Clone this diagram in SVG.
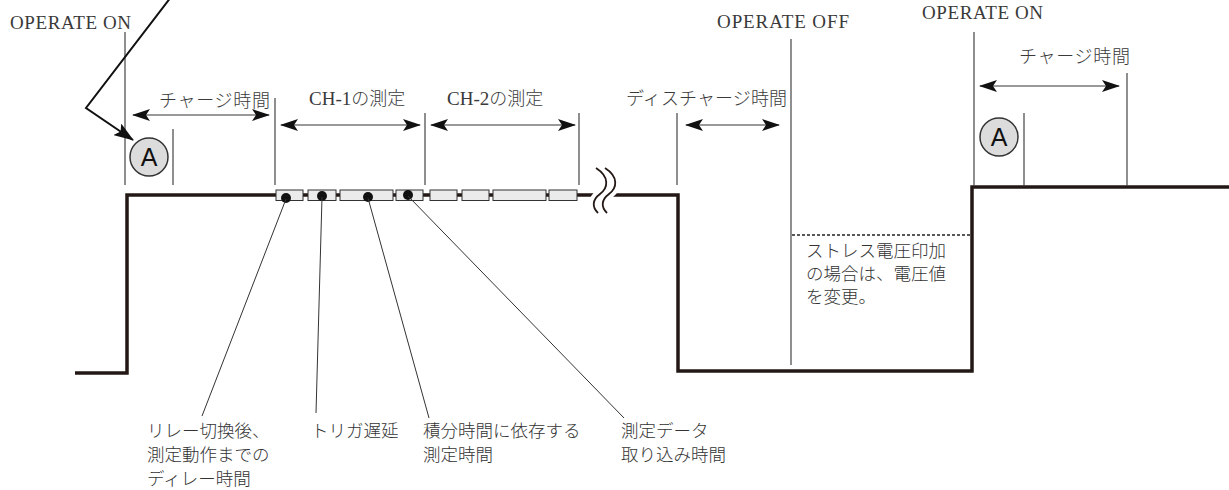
<svg xmlns="http://www.w3.org/2000/svg" width="1229" height="490" viewBox="0 0 1229 490">
<style>
.lat{font-family:"Liberation Serif","Noto Sans CJK JP",serif;font-size:19px;fill:#3a3a3a}
.jp{font-family:"Noto Sans CJK JP",sans-serif;font-size:18px;fill:#3a3a3a;font-weight:300}
.jpb{font-family:"Noto Sans CJK JP",sans-serif;font-size:17.5px;fill:#333;font-weight:300}
.vl{stroke:#444;stroke-width:1.2;fill:none}
.dim{stroke:#777;stroke-width:1.5;fill:none;marker-start:url(#ah);marker-end:url(#ah)}
.wave{stroke:#231815;stroke-width:3.5;fill:none}
.box{fill:#ebebeb;stroke:#333;stroke-width:1}
.dot{fill:#111}
.lead{stroke:#333;stroke-width:1;fill:none}
.circA{fill:#dcdcdc;stroke:#333;stroke-width:1.5}
.letA{font-family:"Liberation Sans",sans-serif;font-size:25px;fill:#111;text-anchor:middle}
</style>
<defs>
<marker id="ah" markerUnits="userSpaceOnUse" markerWidth="18" markerHeight="12" refX="17" refY="6" orient="auto-start-reverse">
<path d="M0,0 L18,6 L0,12 L4,6 z" fill="#111"/>
</marker>
<marker id="ah2" markerUnits="userSpaceOnUse" markerWidth="20" markerHeight="14" refX="19" refY="7" orient="auto">
<path d="M0,0 L20,7 L0,14 L4,7 z" fill="#111"/>
</marker>
</defs>

<g id="waveform">
<path class="wave" d="M75 373 H127 V195 H678 V371 H972 V187 H1229"/>
</g>

<g id="break">
<path d="M596 168 C610 177 608 188 600 194 C592 200 592 207 598 213" stroke="#fff" stroke-width="10" fill="none"/>
<path d="M605 168 C619 177 617 188 609 194 C601 200 601 207 607 213" stroke="#fff" stroke-width="10" fill="none"/>
<path d="M596 168 C610 177 608 188 600 194 C592 200 592 207 598 213" stroke="#231815" stroke-width="1.8" fill="none"/>
<path d="M605 168 C619 177 617 188 609 194 C601 200 601 207 607 213" stroke="#231815" stroke-width="1.8" fill="none"/>
</g>

<g id="measure-boxes">
<rect class="box" x="276" y="190" width="27" height="10.5"/>
<rect class="box" x="308" y="190" width="28" height="10.5"/>
<rect class="box" x="340" y="190" width="53" height="10.5"/>
<rect class="box" x="396" y="190" width="27" height="10.5"/>
<rect class="box" x="430" y="190" width="27" height="10.5"/>
<rect class="box" x="462" y="190" width="27" height="10.5"/>
<rect class="box" x="493" y="190" width="53" height="10.5"/>
<rect class="box" x="549" y="190" width="28" height="10.5"/>
<circle class="dot" cx="286" cy="198" r="5"/>
<circle class="dot" cx="322" cy="196" r="5"/>
<circle class="dot" cx="368" cy="197" r="5"/>
<circle class="dot" cx="408" cy="195" r="5"/>
</g>

<g id="connectors">
<line class="vl" x1="125" y1="32" x2="125" y2="185"/>
<line class="vl" x1="173" y1="129" x2="173" y2="185"/>
<line class="vl" x1="275" y1="98" x2="275" y2="185"/>
<line class="vl" x1="425" y1="113" x2="425" y2="185"/>
<line class="vl" x1="579" y1="113" x2="579" y2="185"/>
<line class="vl" x1="677" y1="113" x2="677" y2="185"/>
<line class="vl" x1="791" y1="39" x2="791" y2="365"/>
<line class="vl" x1="974" y1="32" x2="974" y2="186"/>
<line class="vl" x1="1024" y1="113" x2="1024" y2="186"/>
<line class="vl" x1="1127" y1="73" x2="1127" y2="186"/>
<line class="dim" x1="133" y1="115" x2="269" y2="115"/>
<line class="dim" x1="281" y1="125" x2="420" y2="125"/>
<line class="dim" x1="431" y1="125" x2="575" y2="125"/>
<line class="dim" x1="686" y1="125" x2="779" y2="125"/>
<line class="dim" x1="980" y1="86" x2="1119" y2="86"/>
<path d="M171 -3 L86 108 L133 140" stroke="#111" stroke-width="2" fill="none" marker-end="url(#ah2)"/>
<line x1="792" y1="235" x2="971" y2="235" stroke="#222" stroke-width="1.5" stroke-dasharray="3 2"/>
<line class="lead" x1="286" y1="199" x2="202" y2="416"/>
<line class="lead" x1="322" y1="197" x2="316" y2="413"/>
<line class="lead" x1="368" y1="198" x2="429" y2="418"/>
<line class="lead" x1="408" y1="196" x2="624" y2="418"/>
</g>

<g id="marker-A-left">
<circle class="circA" cx="149" cy="157" r="19"/>
<text class="letA" x="149" y="166">A</text>
</g>
<g id="marker-A-right">
<circle class="circA" cx="999" cy="137" r="19"/>
<text class="letA" x="999" y="146">A</text>
</g>

<g id="labels-top">
<text class="lat" x="10" y="29" textLength="121" lengthAdjust="spacing">OPERATE ON</text>
<text class="lat" x="717" y="28" textLength="132" lengthAdjust="spacing">OPERATE OFF</text>
<text class="lat" x="922" y="19" textLength="121" lengthAdjust="spacing">OPERATE ON</text>
<text class="jp" x="159" y="107" textLength="111">チャージ時間</text>
<text class="jp" x="1019" y="63" textLength="111">チャージ時間</text>
<text class="jp" x="626" y="105" textLength="161">ディスチャージ時間</text>
<text class="lat" x="309" y="105">CH-1<tspan class="jp">の測定</tspan></text>
<text class="lat" x="447" y="105">CH-2<tspan class="jp">の測定</tspan></text>
</g>

<g id="note-stress">
<text class="jpb" x="806" y="257">ストレス電圧印加</text>
<text class="jpb" x="806" y="280">の場合は、電圧値</text>
<text class="jpb" x="806" y="303">を変更。</text>
</g>

<g id="labels-bottom">
<text class="jpb" x="147" y="437">リレー切換後、</text>
<text class="jpb" x="147" y="461">測定動作までの</text>
<text class="jpb" x="147" y="485">ディレー時間</text>
<text class="jpb" x="311" y="437">トリガ遅延</text>
<text class="jpb" x="423" y="437">積分時間に依存する</text>
<text class="jpb" x="423" y="461">測定時間</text>
<text class="jpb" x="621" y="437">測定データ</text>
<text class="jpb" x="621" y="461">取り込み時間</text>
</g>
</svg>
